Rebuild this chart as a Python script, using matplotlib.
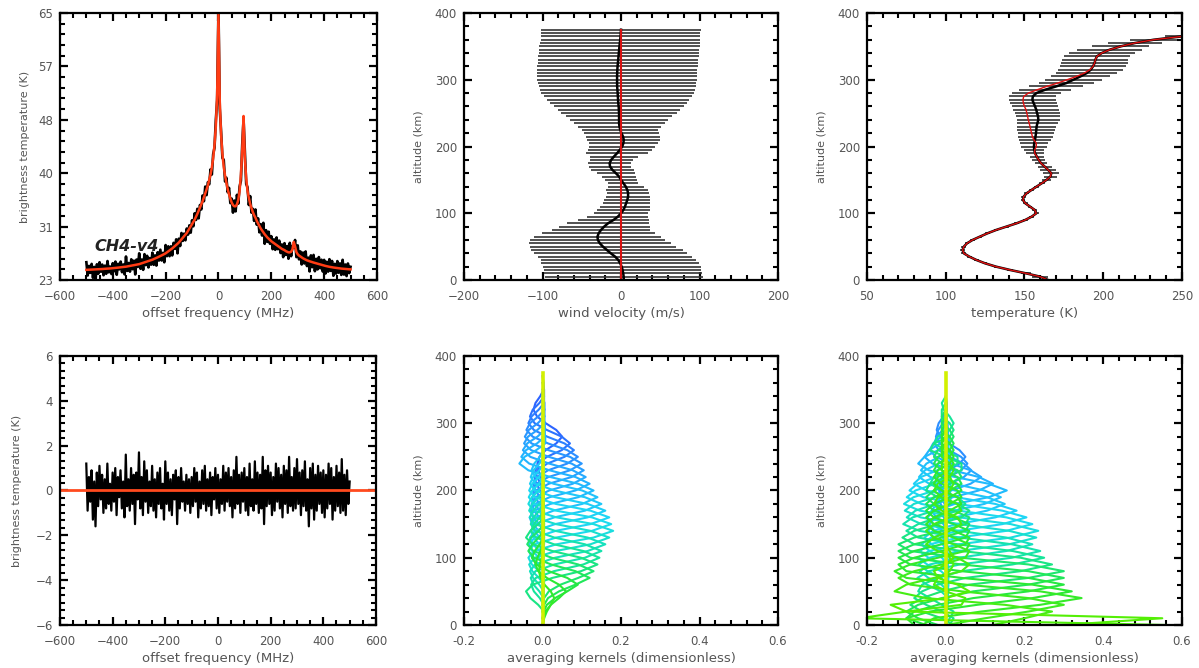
import numpy as np
import matplotlib
matplotlib.use('Agg')
from matplotlib import pyplot as plt
from matplotlib.ticker import MultipleLocator, AutoMinorLocator, FixedLocator
from matplotlib.colors import LinearSegmentedColormap

plt.rcParams['font.family'] = ['DejaVu Sans']

# ---- spectrum (offset frequency, 5 MHz channels from -500 to 500) ----
freq = np.arange(-500, 505, 5)
fit_temp = [
    24.60, 24.61, 24.62, 24.63, 24.64, 24.65, 24.66, 24.67, 24.68, 24.69,
    24.70, 24.71, 24.73, 24.75, 24.76, 24.78, 24.79, 24.81, 24.82, 24.84,
    24.85, 24.88, 24.90, 24.93, 24.95, 24.98, 25.00, 25.03, 25.05, 25.08,
    25.10, 25.14, 25.18, 25.22, 25.26, 25.30, 25.34, 25.38, 25.42, 25.46,
    25.50, 25.57, 25.63, 25.70, 25.77, 25.84, 25.91, 25.98, 26.05, 26.12,
    26.20, 26.29, 26.38, 26.47, 26.57, 26.67, 26.77, 26.87, 26.98, 27.09,
    27.20, 27.35, 27.50, 27.65, 27.80, 27.97, 28.15, 28.32, 28.50, 28.70,
    28.90, 29.15, 29.40, 29.65, 29.90, 30.15, 30.40, 30.75, 31.10, 31.45,
    31.80, 32.15, 32.50, 32.95, 33.40, 33.90, 34.40, 34.90, 35.40, 36.00,
    36.60, 37.25, 37.90, 38.75, 39.60, 40.70, 42.20, 44.20, 47.10, 52.10,
    65.0,
    51.0, 45.8, 42.8, 40.8, 39.4, 38.3, 37.3, 36.5, 35.8, 35.2,
    34.8, 34.6, 34.6, 34.9, 35.6, 37.0, 39.6, 43.5, 48.8, 42.0,
    39.0, 37.0, 35.9, 35.0, 34.3, 33.7, 33.2, 32.8, 32.3, 31.9,
    31.5, 31.1, 30.8, 30.5, 30.2, 29.95, 29.7, 29.5, 29.3, 29.1,
    28.95, 28.8, 28.65, 28.5, 28.35, 28.2, 28.05, 27.9, 27.8, 27.7,
    27.55, 27.45, 27.35, 27.35, 27.45, 27.8, 29.0, 28.3, 27.4, 27.05,
    26.85, 26.7, 26.55, 26.42, 26.3, 26.2, 26.1, 26.02, 25.95, 25.88,
    25.82, 25.75, 25.69, 25.63, 25.57, 25.51, 25.45, 25.39, 25.33, 25.27,
    25.22, 25.17, 25.12, 25.08, 25.04, 25.00, 24.97, 24.94, 24.91, 24.88,
    24.85, 24.82, 24.80, 24.78, 24.76, 24.74, 24.72, 24.70, 24.69, 24.68,
]
residual = [
    1.2, -0.9, 0.6, -0.5, 0.9, -1.3, 0.4, -1.6, 0.8, -0.7, 1.1, -0.4, 0.7, -1.0, 0.5, -0.8, 1.2, -0.6, 0.3, -0.9,
    0.8, -0.5, 1.0, -1.1, 0.6, -0.3, 0.9, -0.8, 0.4, -1.2, 1.6, -0.7, 0.5, -0.9, 1.0, -0.6, 0.7, -1.5, 0.8, -0.4,
    1.7, -0.8, 0.6, -1.1, 1.3, -0.5, 0.9, -1.0, 0.4, -0.7, 1.1, -0.9, 0.5, -1.2, 0.8, -0.6, 1.0, -0.8, 0.3, -1.3,
    1.3, -0.6, 0.8, -0.9, 0.5, -1.1, 0.7, -0.4, 0.9, -1.5, 0.6, -0.8, 1.0, -0.5, 0.4, -0.9, 0.7, -0.6, 0.5, -1.0,
    0.6, -0.7, 1.0, -0.5, 0.8, -1.2, 0.4, -0.8, 0.9, -0.6, 1.1, -0.9, 0.5, -0.7, 0.8, -1.1, 0.6, -0.4, 1.0, -0.8,
    0.7, -1.0, 0.5, -0.6, 1.1, -0.9, 0.8, -0.5, 1.0, -0.7, 0.6, -1.2, 0.9, -0.8, 1.5, -0.6, 0.7, -1.0, 0.8, -0.5,
    1.0, -0.9, 0.6, -1.1, 1.2, -0.7, 0.5, -0.9, 1.3, -0.6, 0.8, -1.0, 0.7, -0.8, 1.5, -1.5, 0.9, -0.7, 1.1, -0.6,
    0.8, -1.1, 0.6, -0.9, 1.2, -0.5, 1.0, -0.8, 0.7, -1.2, 1.1, -0.6, 0.9, -1.0, 1.5, -0.7, 0.6, -0.9, 1.0, -0.8,
    1.4, -0.6, 0.8, -1.1, 0.9, -0.7, 1.3, -0.9, 0.5, -1.6, 1.0, -0.8, 1.2, -1.3, 0.7, -0.9, 1.1, -0.6, 0.8, -1.0,
    0.9, -1.2, 0.7, -0.8, 1.2, -0.6, 1.0, -1.3, 0.6, -0.9, 1.1, -0.7, 0.8, -1.0, 1.4, -0.9, 0.7, -1.1, 0.9, -0.6,
    0.4,
]
obs_temp = np.array(fit_temp) + np.array(residual)

bt_ticks = [23, 31.4, 39.8, 48.2, 56.6, 65]
bt_labels = ['23', '31', '40', '48', '57', '65']

# ---- wind profile (5 km steps) ----
alt = np.arange(0, 380, 5)
wind = [
    3.5, 3.4, 2.8, 2.0, 0.8, -1.0, -3.5, -7.5, -13.0, -18.0,
    -23.0, -27.0, -29.5, -30.0, -28.5, -25.5, -21.5, -16.5, -9.5, -4.0,
    0.0, 3.0, 5.0, 6.5, 8.0, 9.0, 9.0, 8.0, 6.0, 3.0,
    0.0, -2.5, -6.5, -11.0, -14.0, -14.5, -12.5, -9.0, -5.0, -1.5,
    1.5, 3.0, 3.5, 2.5, 0.5, -1.0, -2.0, -2.5, -2.5, -2.5,
    -2.5, -2.8, -3.0, -3.5, -3.8, -4.0, -4.3, -4.6, -4.9, -5.0,
    -5.0, -5.0, -4.9, -4.7, -4.4, -4.0, -3.6, -3.2, -2.8, -2.4,
    -2.0, -1.5, -1.0, -0.6, -0.3, 0.0,
]
wind_err = [
    100.5, 100.5, 100.5, 100.5, 100.5, 100.5, 99, 98.5, 97.5, 96.5,
    93, 90.5, 86, 80.5, 72, 62.5, 58, 52, 45, 39,
    35, 34, 32, 30, 29.5, 28, 27, 26.5, 23, 19,
    20, 21.5, 24, 27.5, 27, 27, 27.5, 30, 39.5, 41,
    42, 44, 46.5, 47, 48, 48.5, 53, 58, 62, 67,
    73.5, 78, 83, 87, 91, 94.5, 97, 99, 100, 101,
    101.5, 102, 102, 102, 102, 102, 102, 102, 102, 102,
    102, 101.5, 101.5, 101.5, 101.5, 101.5,
]
wind_true_alt = [0, 375]
wind_true = [0, 0]

# ---- temperature profile ----
temp = [
    165, 160, 151, 141, 132, 125, 119.5, 115, 111.5, 110.7,
    111.5, 113.5, 117, 121.7, 126.5, 132, 138.5, 145, 150.5, 154.6,
    157.5, 156.5, 153.5, 150.5, 149, 149.5, 151.4, 154.5, 157.7, 161,
    164, 166.5, 167, 165, 162.8, 160.5, 159, 157.8, 156.7, 156.2,
    156, 156.2, 156.7, 157, 157.3, 157.5, 157.7, 158.2, 158.8, 158.6,
    158, 157.5, 156.7, 155.8, 155, 155.3, 157.5, 163, 170, 176.5,
    181, 185.5, 189.5, 192, 193.5, 194.5, 195, 196, 199, 204,
    211, 220, 232, 250, 270, 290,
]
temp_true = [
    165, 160, 151, 141, 132, 125, 119.5, 115, 111.5, 110.7,
    111.5, 113.5, 117, 121.7, 126.5, 132, 138.5, 145, 150.5, 154.6,
    157.5, 156.5, 153.5, 150.5, 149, 149.5, 151.4, 154.5, 157.7, 161,
    164, 166.5, 167, 165, 162.8, 160.5, 159, 157.8, 156.5, 156.5,
    157.5, 157.5, 156, 155, 154.5, 154, 153.5, 153, 152.4, 152,
    151.5, 151, 150, 149.3, 149, 149.5, 152.4, 158, 164, 171,
    177, 183, 188, 191.5, 193.5, 194.5, 195, 196, 199, 204,
    211, 220, 232, 250, 270, 290,
]
temp_err = [
    4, 5, 3, 2, 1.5, 1.5, 1.5, 1.5, 1.5, 1.5,
    1.5, 1.5, 1.5, 1.5, 1.5, 1.5, 1.5, 1.5, 1.5, 1.5,
    1.5, 1.5, 1.5, 1.5, 1.5, 1.5, 1.5, 1.5, 1.5, 2,
    3, 4, 5, 5, 4.5, 4, 4, 4.5, 5.5, 6.5,
    8, 9, 10, 11, 11.5, 12, 12.5, 13, 13.5, 14,
    14.3, 14.5, 14.8, 15, 15, 15, 15.5, 16.5, 17, 17.5,
    18, 18.5, 19.5, 20.5, 21, 21, 21, 21, 21, 20.5,
    18, 17, 15, 11, 6, 3,
]

# ---- averaging kernels, 10 km steps, each row starts at its own altitude ----
wind_ak_peak = [280, 270, 260, 250, 240, 230, 220, 210, 200, 190, 180, 170, 160,
                150, 140, 130, 120, 110, 100, 90, 80, 70, 60, 50, 40]
wind_ak_start = [190, 180, 170, 160, 150, 140, 130, 120, 110, 100, 90, 80, 70,
                 60, 50, 40, 30, 20, 10, 0, 30, 20, 10, 0, 0]
wind_ak = [
    [0, .002, .002, -.004, -.01, -.013, -.008, .008, .035, .05, .035, .008, -.014, -.023, -.018, -.006, .003, .003, 0],
    [0, .002, .002, -.005, -.014, -.018, -.011, .011, .049, .07, .049, .011, -.02, -.032, -.025, -.008, .004, .004, 0],
    [0, .002, .002, -.006, -.016, -.02, -.013, .012, .056, .08, .056, .012, -.022, -.036, -.028, -.01, .004, .004, 0],
    [0, .003, .003, -.006, -.018, -.023, -.014, .014, .063, .09, .063, .014, -.025, -.041, -.032, -.011, .005, .005, 0],
    [0, .003, .003, -.007, -.02, -.025, -.016, .015, .07, .1, .07, .015, -.028, -.045, -.035, -.012, .005, .005, 0],
    [0, .003, .003, -.007, -.021, -.026, -.017, .016, .074, .105, .074, .016, -.029, -.047, -.037, -.013, .005, .005, 0],
    [0, .003, .003, -.008, -.022, -.028, -.018, .017, .077, .11, .077, .017, -.031, -.05, -.039, -.013, .006, .006, 0],
    [0, .004, .004, -.008, -.024, -.03, -.019, .018, .084, .12, .084, .018, -.034, -.054, -.042, -.014, .006, .006, 0],
    [0, .004, .004, -.009, -.026, -.033, -.021, .02, .091, .13, .091, .02, -.036, -.059, -.046, -.016, .007, .007, 0],
    [0, .003, .003, -.007, -.021, -.028, -.017, .028, .101, .14, .101, .028, -.017, -.028, -.021, -.007, .003, .003, 0],
    [0, .003, .003, -.008, -.023, -.03, -.018, .03, .108, .15, .108, .03, -.018, -.03, -.023, -.008, .003, .003, 0],
    [0, .003, .003, -.008, -.024, -.032, -.019, .032, .115, .16, .115, .032, -.019, -.032, -.024, -.008, .003, .003, 0],
    [0, .003, .003, -.009, -.026, -.034, -.02, .034, .122, .17, .122, .034, -.02, -.034, -.026, -.009, .003, .003, 0],
    [0, .004, .004, -.009, -.026, -.035, -.021, .035, .126, .175, .126, .035, -.021, -.035, -.026, -.009, .004, .004, 0],
    [0, .004, .004, -.009, -.027, -.036, -.022, .036, .13, .18, .13, .036, -.022, -.036, -.027, -.009, .004, .004, 0],
    [0, .003, .003, -.009, -.026, -.034, -.02, .034, .122, .17, .122, .034, -.02, -.034, -.026, -.009, .003, .003, 0],
    [0, .003, .003, -.008, -.024, -.032, -.019, .032, .115, .16, .115, .032, -.019, -.032, -.024, -.008, .003, .003, 0],
    [0, .003, .003, -.008, -.023, -.03, -.018, .03, .108, .15, .108, .03, -.018, -.03, -.023, -.008, .003, .003, 0],
    [0, .003, .003, -.007, -.022, -.029, -.017, .029, .104, .145, .104, .029, -.017, -.029, -.022, -.007, .003, .003, 0],
    [0, .004, .004, -.011, -.031, -.042, -.025, .025, .098, .14, .098, .025, -.025, -.042, -.031, -.011, .004, .004, 0],
    [0, .004, .016, .046, .091, .13, .091, .023, -.023, -.039, -.029, -.01, .004, .004, 0],
    [0, .004, .014, .042, .084, .12, .084, .022, -.022, -.036, -.026, -.01, .004, .004, 0],
    [0, .003, .011, .032, .063, .09, .063, .016, -.016, -.027, -.02, -.007, .003, .003, 0],
    [0, .002, .007, .021, .042, .06, .042, .011, -.011, -.018, -.013, -.005, .002, .002, 0],
    [.001, .004, .011, .021, .03, .021, .005, -.005, -.009, -.007, -.002, .001, .001, 0],
]

temp_ak_peak = [250, 240, 230, 220, 210, 200, 190, 180, 170, 160, 150, 140, 130, 120, 110,
                100, 90, 80, 70, 60, 50, 40, 30, 20, 10, 5]
temp_ak_start = [160, 150, 140, 130, 120, 110, 100, 90, 80, 70, 60, 50, 40, 30, 20,
                 0, 0, 0, 0, 0, 0, 0, 0, 0, 0, 0]
temp_ak = [
    [0, .001, .002, -.003, -.01, -.015, -.009, .008, .035, .05, .035, .008, -.014, -.023, -.018, -.006, .003, .003, 0],
    [0, .001, .002, -.003, -.011, -.017, -.01, .008, .039, .055, .039, .008, -.015, -.025, -.019, -.007, .003, .003, 0],
    [0, .001, .002, -.003, -.013, -.02, -.012, .01, .046, .065, .046, .01, -.018, -.029, -.023, -.008, .003, .003, 0],
    [0, .002, .003, -.005, -.018, -.027, -.016, .014, .063, .09, .063, .014, -.025, -.041, -.032, -.011, .005, .005, 0],
    [0, .002, .004, -.006, -.024, -.036, -.022, .018, .084, .12, .084, .018, -.034, -.054, -.042, -.014, .006, .006, 0],
    [0, .003, .005, -.008, -.031, -.047, -.028, .023, .109, .155, .109, .023, -.043, -.07, -.054, -.019, .008, .008, 0],
    [0, .003, .004, -.007, -.028, -.042, -.025, .021, .098, .14, .098, .021, -.039, -.063, -.049, -.017, .007, .007, 0],
    [0, .003, .005, -.008, -.03, -.045, -.027, .023, .105, .15, .105, .023, -.042, -.068, -.053, -.018, .008, .008, 0],
    [0, .004, .005, -.009, -.036, -.054, -.032, .027, .126, .18, .126, .027, -.05, -.081, -.063, -.022, .009, .009, 0],
    [0, .004, .006, -.01, -.041, -.062, -.037, .031, .144, .205, .144, .031, -.057, -.092, -.072, -.025, .01, .01, 0],
    [0, .004, .007, -.011, -.044, -.066, -.04, .033, .154, .22, .154, .033, -.062, -.099, -.077, -.026, .011, .011, 0],
    [0, .005, .007, -.012, -.047, -.071, -.042, .035, .165, .235, .165, .035, -.066, -.106, -.082, -.028, .012, .012, 0],
    [0, .005, .007, -.012, -.046, -.069, -.041, .035, .161, .23, .161, .035, -.064, -.104, -.081, -.028, .012, .012, 0],
    [0, .004, .007, -.011, -.044, -.066, -.04, .033, .154, .22, .154, .033, -.062, -.099, -.077, -.026, .011, .011, 0],
    [0, .005, .007, -.012, -.048, -.072, -.043, .036, .168, .24, .168, .036, -.067, -.108, -.084, -.029, .012, .012, 0],
    [0, .01, .02, -.01, -.04, -.07, -.06, -.02, .04, .17, .25, .17, .03, -.07, -.1, -.07, -.02, .03, .05, .03,
     -.01, -.04, -.03, 0, .03, .03, 0, -.03, -.02, .01, .02, .01, -.005, -.01, 0],
    [.01, .02, -.01, -.05, -.08, -.06, -.02, .05, .19, .27, .19, .04, -.08, -.11, -.08, -.02, .04, .06, .03,
     -.02, -.05, -.04, 0, .04, .04, 0, -.04, -.03, .01, .02, .01, -.01, -.01, 0],
    [.02, -.01, -.06, -.09, -.06, -.01, .06, .21, .3, .21, .04, -.09, -.12, -.08, -.01, .05, .06, .02, -.03,
     -.05, -.03, .01, .04, .03, -.01, -.03, -.02, .01, .02, .01, -.01, -.01, 0],
    [-.02, -.07, -.1, -.07, -.01, .07, .21, .3, .21, .04, -.09, -.12, -.08, -.01, .05, .06, .02, -.03, -.05,
     -.03, .01, .04, .03, -.01, -.03, -.02, .01, .02, .01, -.01, -.01, 0],
    [-.05, -.1, -.08, -.02, .07, .21, .3, .21, .04, -.09, -.12, -.08, -.01, .05, .06, .02, -.03, -.05, -.03,
     .01, .04, .03, -.01, -.03, -.02, .01, .02, .01, -.01, -.01, 0],
    [-.08, -.1, -.04, .08, .22, .32, .22, .04, -.1, -.12, -.08, -.01, .05, .06, .02, -.03, -.05, -.03, .01,
     .04, .03, -.01, -.03, -.02, .01, .02, .01, -.01, -.01, 0],
    [-.06, -.03, .09, .24, .345, .24, .05, -.1, -.13, -.09, -.02, .05, .06, .02, -.03, -.05, -.03, .01, .04,
     .03, -.01, -.03, -.02, .01, .02, .01, -.01, -.01, 0],
    [0, .1, .21, .3, .21, .04, -.09, -.12, -.08, -.01, .05, .06, .02, -.03, -.05, -.03, .01, .04, .03,
     -.01, -.03, -.02, .01, .02, .01, -.01, -.01, 0],
    [.12, .2, .27, .15, -.05, -.13, -.1, -.03, .04, .06, .03, -.02, -.05, -.03, .01, .04, .03, -.01, -.03,
     -.02, .01, .02, .01, -.01, -.01, 0],
    [.56, -.22, -.1, .04, .05, 0, -.03, -.02, .01, .02, .01, 0],
    [.3, .55, -.1, -.14, 0, .06, .03, -.02, -.03, 0, .02, .01, 0],
]
surf_ak_alt = [0, 375]
surf_ak = [0, 0]

ak_cmap = LinearSegmentedColormap.from_list(
    'ak', [(0.0, '#58f000'), (0.2, '#26e83a'), (0.38, '#14e4a8'), (0.55, '#1cdaf4'),
           (0.75, '#22b4ff'), (0.9, '#2c8cff'), (1.0, '#2c64ff')])

GREY = '#555555'


def style(ax, xmaj, xsub, ymaj, ysub):
    ax.xaxis.set_major_locator(MultipleLocator(xmaj))
    ax.xaxis.set_minor_locator(AutoMinorLocator(xsub))
    if ymaj is not None:
        ax.yaxis.set_major_locator(MultipleLocator(ymaj))
    ax.yaxis.set_minor_locator(AutoMinorLocator(ysub))
    ax.tick_params(which='both', direction='in', top=True, right=True,
                   labelcolor=GREY, labelsize=8.5, color='k')
    ax.tick_params(which='major', length=6, width=1.6)
    ax.tick_params(which='minor', length=3.5, width=1.5)
    ax.tick_params(axis='x', pad=7)
    ax.tick_params(axis='y', pad=5)
    for s in ax.spines.values():
        s.set_linewidth(1.6)


def draw_kernels(ax, peaks, starts, rows):
    for p, s, row in zip(peaks, starts, rows):
        z = s + 10 * np.arange(len(row))
        ax.plot(row, z, color=ak_cmap(min(p, 280) / 280.0), lw=1.5)
    ax.plot(surf_ak, surf_ak_alt, color='#d2f000', lw=2.6)


fig = plt.figure(figsize=(11.99, 6.68), dpi=100)
ax1 = fig.add_axes([0.0500, 0.5808, 0.2644, 0.3997])
ax2 = fig.add_axes([0.3870, 0.5808, 0.2619, 0.3997])
ax3 = fig.add_axes([0.7231, 0.5808, 0.2627, 0.3997])
ax4 = fig.add_axes([0.0500, 0.0644, 0.2636, 0.4027])
ax5 = fig.add_axes([0.3870, 0.0644, 0.2619, 0.4027])
ax6 = fig.add_axes([0.7231, 0.0644, 0.2627, 0.4027])

# spectrum + fit
ax1.plot(freq, obs_temp, color='k', lw=1.9)
ax1.plot(freq, fit_temp, color='#ff3c14', lw=1.8)
ax1.set_xlim(-600, 600)
ax1.set_ylim(23, 65)
style(ax1, 200, 4, None, 5)
ax1.yaxis.set_major_locator(FixedLocator(bt_ticks))
ax1.set_yticklabels(bt_labels)
ax1.text(-470, 27.5, 'CH4-v4', fontsize=11.5, fontweight='bold', style='italic', color='#222222')
ax1.set_xlabel('offset frequency (MHz)', fontsize=9.5, color=GREY, labelpad=3)
ax1.set_ylabel('brightness temperature (K)', fontsize=8, color=GREY, labelpad=6)

# wind
ax2.hlines(alt, np.array(wind) - np.array(wind_err), np.array(wind) + np.array(wind_err),
           color='#333333', lw=1.2)
ax2.plot(wind, alt, color='k', lw=1.8)
ax2.plot(wind_true, wind_true_alt, color='#d81010', lw=1.5)
ax2.set_xlim(-200, 200)
ax2.set_ylim(0, 400)
style(ax2, 100, 5, 100, 5)
ax2.set_xlabel('wind velocity (m/s)', fontsize=9.5, color=GREY, labelpad=3)
ax2.set_ylabel('altitude (km)', fontsize=8, color=GREY, labelpad=8)

# temperature
ax3.hlines(alt, np.array(temp) - np.array(temp_err), np.array(temp) + np.array(temp_err),
           color='#333333', lw=1.2)
ax3.plot(temp, alt, color='k', lw=1.8)
ax3.plot(temp_true, alt, color='#e01010', lw=1.0)
ax3.set_xlim(50, 250)
ax3.set_ylim(0, 400)
style(ax3, 50, 5, 100, 5)
ax3.set_xlabel('temperature (K)', fontsize=9.5, color=GREY, labelpad=3)
ax3.set_ylabel('altitude (km)', fontsize=8, color=GREY, labelpad=8)

# residual
ax4.plot(freq, residual, color='k', lw=1.6)
ax4.axhline(0, color='#ff4a1e', lw=2)
ax4.set_xlim(-600, 600)
ax4.set_ylim(-6, 6)
style(ax4, 200, 4, 2, 6)
ax4.set_xlabel('offset frequency (MHz)', fontsize=9.5, color=GREY, labelpad=3)
ax4.set_ylabel('brightness temperature (K)', fontsize=8, color=GREY, labelpad=10)

# averaging kernels
draw_kernels(ax5, wind_ak_peak, wind_ak_start, wind_ak)
draw_kernels(ax6, temp_ak_peak, temp_ak_start, temp_ak)
for ax in (ax5, ax6):
    ax.set_xlim(-0.2, 0.6)
    ax.set_ylim(0, 400)
    style(ax, 0.2, 5, 100, 5)
    ax.xaxis.set_major_formatter(matplotlib.ticker.FormatStrFormatter('%.1f'))
    ax.set_xlabel('averaging kernels (dimensionless)', fontsize=9.5, color=GREY, labelpad=3)
    ax.set_ylabel('altitude (km)', fontsize=8, color=GREY, labelpad=8)

fig.savefig('out.png', dpi=100)
